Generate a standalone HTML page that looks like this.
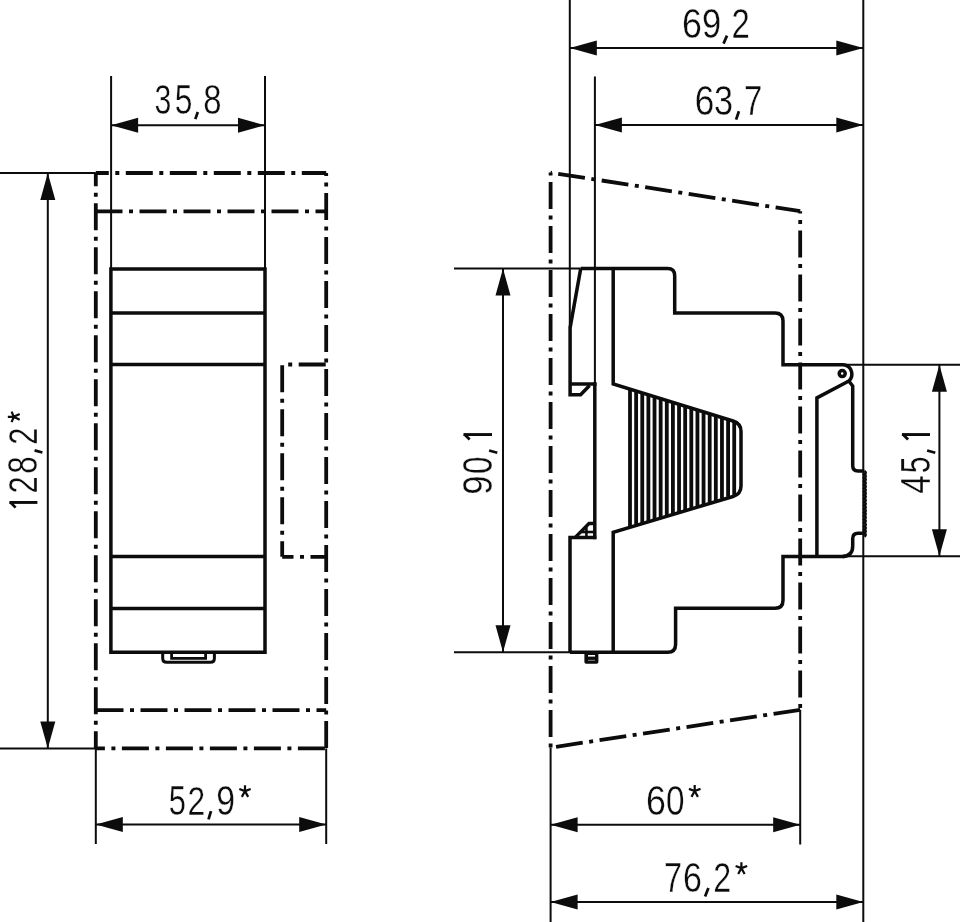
<!DOCTYPE html>
<html><head><meta charset="utf-8"><style>
html,body{margin:0;padding:0;background:#fff;width:960px;height:922px;overflow:hidden}
svg{display:block;filter:grayscale(100%)}
.ast{stroke:#0b0b12;stroke-width:1.0px}
text{font-family:"Liberation Sans",sans-serif;font-size:40px;fill:#0b0b12;stroke:#fff;stroke-width:0.35px}
</style></head><body>
<svg width="960" height="922" viewBox="0 0 960 922" stroke="#0b0b12" fill="none" stroke-linecap="butt">
<line x1="111.10" y1="76.00" x2="111.10" y2="269.00" stroke-width="2.0"/>
<line x1="265.00" y1="76.00" x2="265.00" y2="269.00" stroke-width="2.0"/>
<line x1="111.10" y1="125.20" x2="265.00" y2="125.20" stroke-width="2.0"/>
<path d="M111.10,125.20 L138.10,117.70 L138.10,132.70 Z" fill="#0b0b12" stroke="none"/>
<path d="M265.00,125.20 L238.00,132.70 L238.00,117.70 Z" fill="#0b0b12" stroke="none"/>
<g><text transform="matrix(0.7568 0 0 1.0527 154.48 114.40)">3</text>
<text transform="matrix(0.7945 0 0 1.0624 174.81 114.40)">5</text>
<line x1="197.80" y1="112.00" x2="195.30" y2="119.10" stroke-width="2.75"/>
<text transform="matrix(0.8219 0 0 1.0527 203.36 114.40)">8</text></g>
<line x1="95.80" y1="173.00" x2="326.20" y2="173.00" stroke-width="3.8" stroke-dasharray="27.0 6.5 4.0 6.5" stroke-dashoffset="14.00"/>
<line x1="95.80" y1="173.00" x2="95.80" y2="748.40" stroke-width="3.8" stroke-dasharray="27.0 6.5 4.0 6.5" stroke-dashoffset="13.80"/>
<line x1="326.20" y1="173.00" x2="326.20" y2="748.40" stroke-width="3.8" stroke-dasharray="27.0 6.5 4.0 6.5" stroke-dashoffset="23.90"/>
<line x1="95.80" y1="748.40" x2="326.20" y2="748.40" stroke-width="3.8" stroke-dasharray="27.0 6.5 4.0 6.5" stroke-dashoffset="17.90"/>
<line x1="95.80" y1="211.30" x2="326.20" y2="211.30" stroke-width="3.8" stroke-dasharray="27.0 6.5 4.0 6.5" stroke-dashoffset="0.30"/>
<line x1="95.80" y1="710.10" x2="326.20" y2="710.10" stroke-width="3.8" stroke-dasharray="27.0 6.5 4.0 6.5" stroke-dashoffset="43.30"/>
<line x1="282.20" y1="364.50" x2="326.20" y2="364.50" stroke-width="3.8" stroke-dasharray="27.0 6.5 4.0 6.5" stroke-dashoffset="27.50"/>
<line x1="282.20" y1="364.50" x2="282.20" y2="556.80" stroke-width="3.8" stroke-dasharray="27.0 6.5 4.0 6.5" stroke-dashoffset="43.20"/>
<line x1="282.20" y1="556.80" x2="326.20" y2="556.80" stroke-width="3.8" stroke-dasharray="27.0 6.5 4.0 6.5" stroke-dashoffset="15.70"/>
<path d="M110.9,269.1 H265.0 V652.3 H110.9 Z" stroke-width="3.5" fill="none" stroke-linejoin="miter"/>
<line x1="110.90" y1="313.00" x2="265.00" y2="313.00" stroke-width="3.5"/>
<line x1="110.90" y1="364.60" x2="265.00" y2="364.60" stroke-width="3.5"/>
<line x1="110.90" y1="556.50" x2="265.00" y2="556.50" stroke-width="3.5"/>
<line x1="110.90" y1="608.50" x2="265.00" y2="608.50" stroke-width="3.5"/>
<path d="M162.7,652.3 V658.2 Q162.7,662.2 166.7,662.2 H210.4 Q214.4,662.2 214.4,658.2 V652.3" stroke-width="3.0" fill="none" stroke-linejoin="miter"/>
<path d="M171.6,652.3 V658.3 H205.6 V652.3" stroke-width="2.8" fill="none" stroke-linejoin="miter"/>
<line x1="0.00" y1="173.00" x2="95.80" y2="173.00" stroke-width="2.0"/>
<line x1="0.00" y1="748.40" x2="95.80" y2="748.40" stroke-width="2.0"/>
<line x1="47.80" y1="173.00" x2="47.80" y2="748.40" stroke-width="2.0"/>
<path d="M47.80,173.00 L55.30,200.00 L40.30,200.00 Z" fill="#0b0b12" stroke="none"/>
<path d="M47.80,748.40 L40.30,721.40 L55.30,721.40 Z" fill="#0b0b12" stroke="none"/>
<g transform="matrix(0 -1 1 0 0 0)"><line x1="-502.45" y1="9.40" x2="-502.45" y2="37.40" stroke-width="2.9"/>
<line x1="-502.15" y1="10.20" x2="-507.60" y2="15.60" stroke-width="2.75"/>
<text transform="matrix(0.7718 0 0 1.0378 -493.44 37.40)">2</text>
<text transform="matrix(0.7836 0 0 1.0473 -473.87 37.40)">8</text>
<line x1="-450.40" y1="34.60" x2="-452.50" y2="42.40" stroke-width="2.75"/>
<text transform="matrix(0.7718 0 0 1.0378 -444.74 37.40)">2</text>
<path d="M-416.85,13.75L-416.85,7.82M-416.85,13.75L-422.10,11.62M-416.85,13.75L-411.60,11.62M-416.85,13.75L-419.79,19.68M-416.85,13.75L-413.91,19.68" stroke-width="2.2"/></g>
<line x1="95.80" y1="748.40" x2="95.80" y2="844.00" stroke-width="2.0"/>
<line x1="326.20" y1="748.40" x2="326.20" y2="844.00" stroke-width="2.0"/>
<line x1="95.80" y1="824.60" x2="326.20" y2="824.60" stroke-width="2.0"/>
<path d="M95.80,824.60 L122.80,817.10 L122.80,832.10 Z" fill="#0b0b12" stroke="none"/>
<path d="M326.20,824.60 L299.20,832.10 L299.20,817.10 Z" fill="#0b0b12" stroke="none"/>
<g><text transform="matrix(0.7726 0 0 1.0569 168.65 814.60)">5</text>
<text transform="matrix(0.7944 0 0 1.0378 187.41 814.60)">2</text>
<line x1="211.00" y1="811.20" x2="208.50" y2="819.40" stroke-width="2.75"/>
<text transform="matrix(0.8438 0 0 1.0473 216.31 814.60)">9</text>
<path d="M245.00,791.10L245.00,785.32M245.00,791.10L239.30,789.03M245.00,791.10L250.70,789.03M245.00,791.10L241.83,796.88M245.00,791.10L248.17,796.88" stroke-width="2.2"/></g>
<line x1="569.80" y1="0.00" x2="569.80" y2="328.00" stroke-width="2.0"/>
<line x1="594.90" y1="76.50" x2="594.90" y2="384.00" stroke-width="2.0"/>
<line x1="863.30" y1="0.00" x2="863.30" y2="922.00" stroke-width="2.0"/>
<line x1="569.80" y1="48.10" x2="863.30" y2="48.10" stroke-width="2.0"/>
<path d="M569.80,48.10 L596.80,40.60 L596.80,55.60 Z" fill="#0b0b12" stroke="none"/>
<path d="M863.30,48.10 L836.30,55.60 L836.30,40.60 Z" fill="#0b0b12" stroke="none"/>
<g><text transform="matrix(0.8944 0 0 1.0509 681.89 38.00)">6</text>
<text transform="matrix(0.8603 0 0 1.0509 701.88 38.00)">9</text>
<line x1="727.00" y1="35.60" x2="723.50" y2="43.60" stroke-width="2.75"/>
<text transform="matrix(0.8225 0 0 1.0414 731.45 38.00)">2</text></g>
<line x1="594.90" y1="125.10" x2="863.30" y2="125.10" stroke-width="2.0"/>
<path d="M594.90,125.10 L621.90,117.60 L621.90,132.60 Z" fill="#0b0b12" stroke="none"/>
<path d="M863.30,125.10 L836.30,132.60 L836.30,117.60 Z" fill="#0b0b12" stroke="none"/>
<g><text transform="matrix(0.8778 0 0 1.0600 694.73 114.60)">6</text>
<text transform="matrix(0.8568 0 0 1.0600 713.90 114.60)">3</text>
<line x1="738.90" y1="111.20" x2="736.10" y2="119.60" stroke-width="2.75"/>
<text transform="matrix(0.8225 0 0 1.0697 743.95 114.60)">7</text></g>
<line x1="550.60" y1="172.60" x2="550.60" y2="747.60" stroke-width="3.8" stroke-dasharray="27.0 6.5 4.0 6.5" stroke-dashoffset="34.70"/>
<line x1="550.60" y1="172.60" x2="800.20" y2="211.20" stroke-width="3.8" stroke-dasharray="27.0 6.5 4.0 6.5" stroke-dashoffset="36.30"/>
<line x1="800.20" y1="211.20" x2="800.20" y2="709.80" stroke-width="3.8" stroke-dasharray="27.0 6.5 4.0 6.5" stroke-dashoffset="24.70"/>
<line x1="550.60" y1="747.60" x2="800.20" y2="709.80" stroke-width="3.8" stroke-dasharray="27.0 6.5 4.0 6.5" stroke-dashoffset="38.50"/>
<path d="M580.7,268.6 H667.5 Q674.7,268.6 674.7,275.8 V313.1 H775 Q783,313.1 783,321.1 V364.8 H844" stroke-width="3.5" fill="none" stroke-linejoin="miter"/>
<path d="M580.7,268.6 L570.1,328 V394.8 H580.6 L589.6,385.5" stroke-width="3.5" fill="none" stroke-linejoin="miter"/>
<line x1="570.10" y1="384.00" x2="596.50" y2="384.00" stroke-width="3.5"/>
<line x1="594.80" y1="382.40" x2="594.80" y2="539.20" stroke-width="3.5"/>
<path d="M613.2,268.6 V384 L733,421 Q741,423.5 741,431.5 V486 Q741,494 733,496.5 L613.2,532.3 V652.3" stroke-width="3.5" fill="none" stroke-linejoin="miter"/>
<path d="M570,652.3 V537.6 H596.3" stroke-width="3.5" fill="none" stroke-linejoin="miter"/>
<path d="M575,537.6 L589,523.5 H594.8" stroke-width="3.4" fill="none" stroke-linejoin="miter"/>
<line x1="580.50" y1="532.00" x2="594.80" y2="532.00" stroke-width="2.6"/>
<line x1="586.40" y1="526.00" x2="586.40" y2="537.60" stroke-width="2.6"/>
<path d="M570,652.3 H667.5 Q675.6,652.3 675.6,644.2 V608.2 H775 Q783,608.2 783,600.2 V556.4 H845" stroke-width="3.5" fill="none" stroke-linejoin="miter"/>
<rect x="584.4" y="652" width="14" height="11.7" rx="1.8" fill="#0b0b12" stroke="none"/>
<rect x="588" y="655" width="7" height="1.6" fill="#fff" stroke="none"/>
<rect x="588" y="659.8" width="7" height="1" fill="#888" stroke="none"/>
<path d="M844,364.8 A9.4,9.4 0 0 1 848.8,381.0 L852.7,386 V465.5 Q852.7,471 858,471 H864.3" stroke-width="3.5" fill="none" stroke-linejoin="miter"/>
<path d="M864.3,533.2 H858 Q852.7,533.2 852.7,538.5 V546 Q852.7,556.4 842.5,556.4 H845" stroke-width="3.5" fill="none" stroke-linejoin="miter"/>
<path d="M848.4,381.3 L816.9,397.9 V556.4" stroke-width="3.5" fill="none" stroke-linejoin="miter"/>
<circle cx="842.2" cy="373.6" r="3.0" fill="none" stroke-width="3.5"/>
<path d="M864.4,471 q2.6,1.7 0,3.45 q2.6,1.7 0,3.45 q2.6,1.7 0,3.45 q2.6,1.7 0,3.45 q2.6,1.7 0,3.45 q2.6,1.7 0,3.45 q2.6,1.7 0,3.45 q2.6,1.7 0,3.45 q2.6,1.7 0,3.45 q2.6,1.7 0,3.45 q2.6,1.7 0,3.45 q2.6,1.7 0,3.45 q2.6,1.7 0,3.45 q2.6,1.7 0,3.45 q2.6,1.7 0,3.45 q2.6,1.7 0,3.45 q2.6,1.7 0,3.45 q2.6,1.7 0,3.45 q2.6,1.7 0,3.45" stroke-width="2.6" fill="none" stroke-linejoin="miter"/>
<line x1="630.00" y1="389.19" x2="630.00" y2="527.11" stroke-width="3.8"/>
<line x1="636.13" y1="391.08" x2="636.13" y2="525.22" stroke-width="3.8"/>
<line x1="642.26" y1="392.98" x2="642.26" y2="523.32" stroke-width="3.8"/>
<line x1="648.39" y1="394.87" x2="648.39" y2="521.43" stroke-width="3.8"/>
<line x1="654.52" y1="396.76" x2="654.52" y2="519.54" stroke-width="3.8"/>
<line x1="660.65" y1="398.65" x2="660.65" y2="517.65" stroke-width="3.8"/>
<line x1="666.78" y1="400.55" x2="666.78" y2="515.75" stroke-width="3.8"/>
<line x1="672.91" y1="402.44" x2="672.91" y2="513.86" stroke-width="3.8"/>
<line x1="679.04" y1="404.33" x2="679.04" y2="511.97" stroke-width="3.8"/>
<line x1="685.17" y1="406.23" x2="685.17" y2="510.07" stroke-width="3.8"/>
<line x1="691.30" y1="408.12" x2="691.30" y2="508.18" stroke-width="3.8"/>
<line x1="697.43" y1="410.01" x2="697.43" y2="506.29" stroke-width="3.8"/>
<line x1="703.56" y1="411.91" x2="703.56" y2="504.39" stroke-width="3.8"/>
<line x1="709.69" y1="413.80" x2="709.69" y2="502.50" stroke-width="3.8"/>
<line x1="715.82" y1="415.69" x2="715.82" y2="500.61" stroke-width="3.8"/>
<line x1="721.95" y1="417.59" x2="721.95" y2="498.71" stroke-width="3.8"/>
<line x1="728.08" y1="419.48" x2="728.08" y2="496.82" stroke-width="3.8"/>
<line x1="734.21" y1="421.37" x2="734.21" y2="494.93" stroke-width="3.8"/>
<line x1="454.00" y1="268.60" x2="580.70" y2="268.60" stroke-width="2.0"/>
<line x1="454.00" y1="652.30" x2="570.00" y2="652.30" stroke-width="2.0"/>
<line x1="503.00" y1="268.60" x2="503.00" y2="652.30" stroke-width="2.0"/>
<path d="M503.00,268.60 L510.50,295.60 L495.50,295.60 Z" fill="#0b0b12" stroke="none"/>
<path d="M503.00,652.30 L495.50,625.30 L510.50,625.30 Z" fill="#0b0b12" stroke="none"/>
<g transform="matrix(0 -1 1 0 0 0)"><text transform="matrix(0.8712 0 0 1.0655 -494.64 492.00)">9</text>
<text transform="matrix(0.7840 0 0 1.0655 -473.97 492.00)">0</text>
<line x1="-450.50" y1="489.10" x2="-452.80" y2="497.30" stroke-width="2.75"/>
<line x1="-434.55" y1="463.50" x2="-434.55" y2="492.00" stroke-width="2.9"/>
<line x1="-434.25" y1="464.30" x2="-439.50" y2="469.70" stroke-width="2.75"/></g>
<line x1="844.00" y1="364.80" x2="960.00" y2="364.80" stroke-width="2.0"/>
<line x1="845.00" y1="556.20" x2="960.00" y2="556.20" stroke-width="2.0"/>
<line x1="939.40" y1="364.80" x2="939.40" y2="556.20" stroke-width="2.0"/>
<path d="M939.40,364.80 L946.90,391.80 L931.90,391.80 Z" fill="#0b0b12" stroke="none"/>
<path d="M939.40,556.20 L931.90,529.20 L946.90,529.20 Z" fill="#0b0b12" stroke="none"/>
<g transform="matrix(0 -1 1 0 0 0)"><text transform="matrix(0.8350 0 0 1.0606 -493.73 930.00)">4</text>
<text transform="matrix(0.7562 0 0 1.0606 -473.21 930.00)">5</text>
<line x1="-450.50" y1="927.10" x2="-452.80" y2="935.30" stroke-width="2.75"/>
<line x1="-434.55" y1="901.90" x2="-434.55" y2="930.00" stroke-width="2.9"/>
<line x1="-434.25" y1="902.70" x2="-439.50" y2="908.10" stroke-width="2.75"/></g>
<line x1="550.60" y1="747.60" x2="550.60" y2="922.00" stroke-width="2.0"/>
<line x1="800.20" y1="709.80" x2="800.20" y2="844.50" stroke-width="2.0"/>
<line x1="550.60" y1="824.80" x2="800.20" y2="824.80" stroke-width="2.0"/>
<path d="M550.60,824.80 L577.60,817.30 L577.60,832.30 Z" fill="#0b0b12" stroke="none"/>
<path d="M800.20,824.80 L773.20,832.30 L773.20,817.30 Z" fill="#0b0b12" stroke="none"/>
<g><text transform="matrix(0.8944 0 0 1.0782 645.99 814.75)">6</text>
<text transform="matrix(0.8320 0 0 1.0782 665.94 814.75)">0</text>
<path d="M694.70,791.00L694.70,785.12M694.70,791.00L688.90,788.89M694.70,791.00L700.50,788.89M694.70,791.00L691.48,796.88M694.70,791.00L697.92,796.88" stroke-width="2.2"/></g>
<line x1="550.60" y1="901.90" x2="863.30" y2="901.90" stroke-width="2.0"/>
<path d="M550.60,901.90 L577.60,894.40 L577.60,909.40 Z" fill="#0b0b12" stroke="none"/>
<path d="M863.30,901.90 L836.30,909.40 L836.30,894.40 Z" fill="#0b0b12" stroke="none"/>
<g><text transform="matrix(0.8113 0 0 1.0642 664.07 892.10)">7</text>
<text transform="matrix(0.8500 0 0 1.0545 682.89 892.10)">6</text>
<line x1="708.40" y1="888.10" x2="705.10" y2="896.60" stroke-width="2.75"/>
<text transform="matrix(0.8056 0 0 1.0450 713.19 892.10)">2</text>
<path d="M741.40,868.10L741.40,862.22M741.40,868.10L735.60,865.99M741.40,868.10L747.20,865.99M741.40,868.10L738.18,873.98M741.40,868.10L744.62,873.98" stroke-width="2.2"/></g>
</svg>
</body></html>
